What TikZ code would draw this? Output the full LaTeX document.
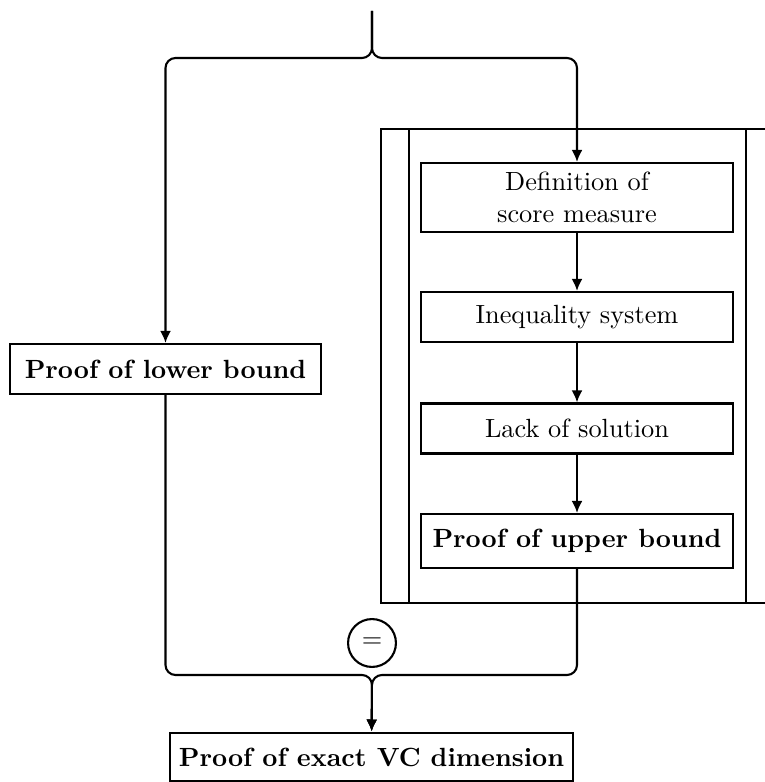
\documentclass[tikz,border=0pt]{standalone}
\usetikzlibrary{arrows.meta}

\tikzset{
  box/.style={draw, fill=white, minimum width=118.5pt, minimum height=19pt,
    inner sep=2pt, align=center},
  flow/.style={-{Latex[length=4.6pt,width=4.2pt]}},
}

\begin{document}
\begin{tikzpicture}[thick, x=0.38pt, y=-0.38pt]
  \useasboundingbox (0,0) rectangle (764,782);

  % frame round the upper bound
  \draw (381,129) rectangle (774,603);
  \draw (409,129) -- (409,603)
        (746,129) -- (746,603);

  \node[box, minimum height=26.2pt] (def) at (577,197.5) {Definition of\\score measure};
  \node[box] (ineq)  at (577,317)   {Inequality system};
  \node[box] (lack)  at (577,428.5) {Lack of solution};
  \node[box, minimum height=20.5pt] (upper) at (577,541) {\textbf{Proof of upper bound}};
  \node[box, minimum width=118pt] (lower) at (165.5,369) {\textbf{Proof of lower bound}};
  \node[box, minimum width=153pt, minimum height=18.5pt] (exact) at (371.5,757) {\textbf{Proof of exact VC dimension}};
  \node[draw, circle, fill=white, minimum size=18.2pt, inner sep=0pt] (eq) at (372,643) {$=$};

  \coordinate (top) at (372,11);
  \draw[flow, rounded corners=3.8pt] (top) -- (372,58) -| (lower);
  \draw[flow, rounded corners=3.8pt] (top) -- (372,58) -| (def);

  \draw[flow] (def) -- (ineq);
  \draw[flow] (ineq) -- (lack);
  \draw[flow] (lack) -- (upper);

  \draw[flow, rounded corners=3.8pt] (lower) |- (372,675) -- (exact);
  \draw[flow, rounded corners=3.8pt] (upper) |- (372,675) -- (exact);
\end{tikzpicture}
\end{document}
